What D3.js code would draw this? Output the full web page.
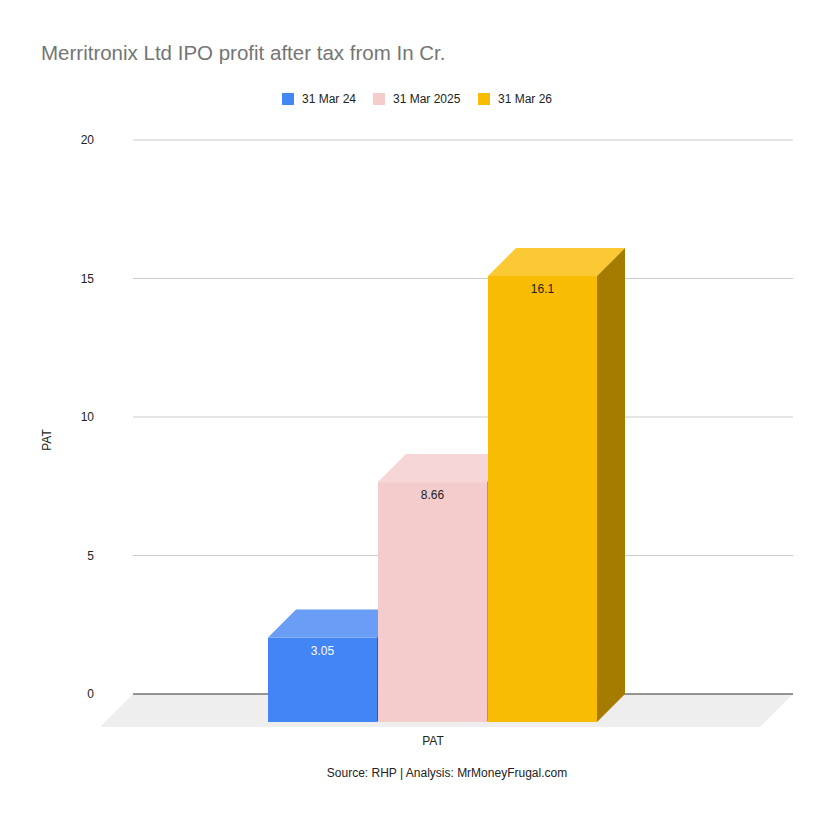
<!DOCTYPE html>
<html>
<head>
<meta charset="utf-8">
<script src="https://cdn.jsdelivr.net/npm/d3@7"></script>
<style>
  body { margin: 0; background: #fff; }
  svg { display: block; font-family: "Liberation Sans", Arial, sans-serif; }
</style>
</head>
<body>
<div id="chart"></div>
<script>
// chart data
const categories = ["PAT"];
const seriesNames = ["31 Mar 24", "31 Mar 2025", "31 Mar 26"];
const seriesValues = [3.05, 8.66, 16.1];
const yTicks = [0, 5, 10, 15, 20];

const colors = [
  { front: "#4285f4", top: "#6a9ef6", side: "#2b5db2", label: "#ffffff" },
  { front: "#f4cccc", top: "#f6d6d7", side: "#a89393", label: "#222222" },
  { front: "#f9bc05", top: "#fbc934", side: "#a67c00", label: "#222222" }
];

const width = 835;
const height = 821;
const plotLeft = 133, plotRight = 793;
const plotTop = 140, plotBottom = 694;
const depth = 28;       // 3d offset of the bars
const floorDepth = 33;  // 3d offset of the floor

const svg = d3.select("#chart")
  .append("svg")
  .attr("width", width)
  .attr("height", height);

const y = d3.scaleLinear().domain([0, 20]).range([plotBottom, plotTop]);
const x0 = d3.scaleBand().domain(categories).range([plotLeft, plotRight])
  .paddingInner(0).paddingOuter(0.5).align(0.494);
const x1 = d3.scaleBand().domain(seriesNames).range([0, x0.bandwidth()]);

// title
svg.append("text")
  .attr("x", 41).attr("y", 60)
  .attr("fill", "#757575")
  .style("font-size", "20.5px")
  .text("Merritronix Ltd IPO profit after tax from In Cr.");

// legend
const legendX = [282, 373, 478];
const legend = svg.append("g")
  .selectAll("g")
  .data(seriesNames)
  .join("g")
  .attr("transform", (d, i) => `translate(${legendX[i]}, 93)`);

legend.append("rect")
  .attr("width", 12).attr("height", 12)
  .attr("fill", (d, i) => colors[i].front);

legend.append("text")
  .attr("x", 20).attr("y", 6)
  .attr("dy", "0.35em")
  .attr("fill", "#222")
  .style("font-size", "12px")
  .text(d => d);

// floor
svg.append("path")
  .attr("d", `M${plotLeft},${plotBottom}L${plotRight},${plotBottom}` +
    `L${plotRight - floorDepth},${plotBottom + floorDepth}L${plotLeft - floorDepth},${plotBottom + floorDepth}Z`)
  .attr("fill", "#eeeeee");

// gridlines
svg.append("g")
  .selectAll("line")
  .data(yTicks.filter(t => t !== 0))
  .join("line")
  .attr("x1", plotLeft).attr("x2", plotRight)
  .attr("y1", d => y(d)).attr("y2", d => y(d))
  .attr("stroke", "#cccccc");

svg.append("line")
  .attr("x1", plotLeft).attr("x2", plotRight)
  .attr("y1", y(0)).attr("y2", y(0))
  .attr("stroke", "#333333")
  .attr("stroke-width", 1.2);

// y tick labels
svg.append("g")
  .selectAll("text")
  .data(yTicks)
  .join("text")
  .attr("x", 94)
  .attr("y", d => y(d))
  .attr("dy", "0.35em")
  .attr("text-anchor", "end")
  .attr("fill", "#222")
  .style("font-size", "12px")
  .text(d => d);

// axis titles
svg.append("text")
  .attr("transform", "translate(51, 440) rotate(-90)")
  .attr("text-anchor", "middle")
  .attr("fill", "#222")
  .style("font-size", "12px")
  .text("PAT");

svg.append("text")
  .attr("x", x0("PAT") + x0.bandwidth() / 2 - depth)
  .attr("y", 745)
  .attr("text-anchor", "middle")
  .attr("fill", "#222")
  .style("font-size", "12px")
  .text(categories[0]);

svg.append("text")
  .attr("x", 447)
  .attr("y", 777)
  .attr("text-anchor", "middle")
  .attr("fill", "#222")
  .style("font-size", "12px")
  .text("Source: RHP | Analysis: MrMoneyFrugal.com");

// 3d bars
const bars = svg.append("g")
  .selectAll("g")
  .data(seriesValues.map((v, i) => ({ name: seriesNames[i], value: v, i })))
  .join("g");

bars.each(function (d) {
  const g = d3.select(this);
  const c = colors[d.i];
  const xl = x0("PAT") + x1(d.name) - depth;
  const w = x1.bandwidth() - 1;
  const yt = y(d.value) + depth;
  const yb = y(0) + depth;

  g.append("rect")
    .attr("x", xl).attr("y", yt)
    .attr("width", w).attr("height", yb - yt)
    .attr("fill", c.front);

  g.append("path")
    .attr("d", `M${xl},${yt}L${xl + depth},${yt - depth}L${xl + w + depth},${yt - depth}L${xl + w},${yt}Z`)
    .attr("fill", c.top);

  g.append("path")
    .attr("d", `M${xl + w},${yt}L${xl + w + depth},${yt - depth}L${xl + w + depth},${yb - depth}L${xl + w},${yb}Z`)
    .attr("fill", c.side);

  g.append("text")
    .attr("x", xl + w / 2)
    .attr("y", yt + 13)
    .attr("dy", "0.35em")
    .attr("text-anchor", "middle")
    .attr("fill", c.label)
    .style("font-size", "12px")
    .text(d.value);
});
</script>
</body>
</html>
